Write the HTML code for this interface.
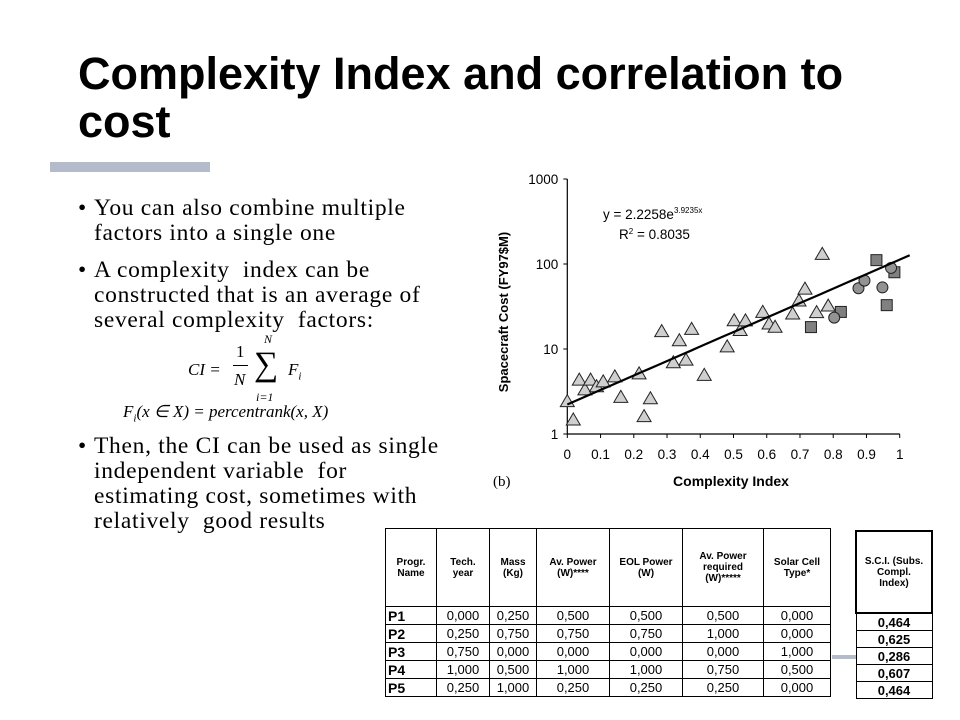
<!DOCTYPE html>
<html><head><meta charset="utf-8"><style>
body{margin:0;width:960px;height:720px;background:#fff;position:relative;overflow:hidden;font-family:"Liberation Sans",sans-serif}
.abs{position:absolute}
#title{left:78px;top:50px;font-size:45px;font-weight:bold;line-height:48px;color:#000;width:880px}
#bar{left:50px;top:162px;width:160px;height:10px;background:#b4bccb}
.bul{font-family:"Liberation Serif",serif;font-size:23.5px;letter-spacing:0.7px;line-height:25px;color:#000;left:78px;width:400px}
.bul span.dot{position:absolute;left:0}
.bul div{padding-left:16px}
.math{font-family:"Liberation Serif",serif;font-style:italic;font-size:17px}
table{border-collapse:collapse;font-family:"Liberation Sans",sans-serif}
#tbl td{border:1.5px solid #000;font-size:13px;text-align:center;padding:0;height:17px}
#tbl th{border:1.5px solid #000;font-size:10px;font-weight:bold;height:77px;padding:0}
#tbl td.n{text-align:left;font-weight:bold;font-size:14px;padding-left:2px}
#sci td{border:1.5px solid #000;font-size:13px;font-weight:bold;text-align:center;height:16px;padding:0}
#sci th{border:2px solid #000;font-size:10px;font-weight:bold;height:78px}
</style></head><body>
<div id="title" class="abs">Complexity Index and correlation to<br>cost</div>
<div id="bar" class="abs"></div>
<div class="abs bul" style="top:196px"><span class="dot">•</span><div>You can also combine multiple<br>factors into a single one</div></div>
<div class="abs bul" style="top:258px"><span class="dot">•</span><div>A complexity &nbsp;index can be<br>constructed that is an average of<br>several complexity &nbsp;factors:</div></div>
<div class="abs math" style="left:188px;top:332px;width:150px">
<span style="position:absolute;left:0;top:28px">CI =</span>
<span style="position:absolute;left:48px;top:10px;font-style:normal">1</span>
<span style="position:absolute;left:45px;top:33px;width:15px;border-top:1px solid #000"></span>
<span style="position:absolute;left:46px;top:38px">N</span>
<span style="position:absolute;left:76px;top:0px;font-size:12px">N</span>
<span style="position:absolute;left:66px;top:14px;font-size:34px;font-style:normal">∑</span>
<span style="position:absolute;left:68px;top:58px;font-size:12px">i=1</span>
<span style="position:absolute;left:100px;top:28px">F<sub style="font-size:11px">i</sub></span>
</div>
<div class="abs math" style="left:123px;top:402px">F<sub style="font-size:11px">i</sub>(x ∈ X) = percentrank(x, X)</div>
<div class="abs bul" style="top:434px"><span class="dot">•</span><div>Then, the CI can be used as single<br>independent variable &nbsp;for<br>estimating cost, sometimes with<br>relatively &nbsp;good results</div></div>

<svg id="chart" class="abs" style="left:0;top:0" width="960" height="720"></svg>

<div class="abs" style="left:832px;top:655px;width:24px;height:4px;background:#b4bccb"></div>
<table id="tbl" class="abs" style="left:385px;top:528px;width:446px;background:#fff">
<tr><th style="width:50px">Progr.<br>Name</th><th style="width:52px">Tech.<br>year</th><th style="width:46px">Mass<br>(Kg)</th><th style="width:72px">Av. Power<br>(W)****</th><th style="width:72px">EOL Power<br>(W)</th><th style="width:80px">Av. Power<br>required<br>(W)*****</th><th>Solar Cell<br>Type*</th></tr>
<tr><td class="n">P1</td><td>0,000</td><td>0,250</td><td>0,500</td><td>0,500</td><td>0,500</td><td>0,000</td></tr>
<tr><td class="n">P2</td><td>0,250</td><td>0,750</td><td>0,750</td><td>0,750</td><td>1,000</td><td>0,000</td></tr>
<tr><td class="n">P3</td><td>0,750</td><td>0,000</td><td>0,000</td><td>0,000</td><td>0,000</td><td>1,000</td></tr>
<tr><td class="n">P4</td><td>1,000</td><td>0,500</td><td>1,000</td><td>1,000</td><td>0,750</td><td>0,500</td></tr>
<tr><td class="n">P5</td><td>0,250</td><td>1,000</td><td>0,250</td><td>0,250</td><td>0,250</td><td>0,000</td></tr>
</table>
<table id="sci" class="abs" style="left:855px;top:530px;width:78px">
<tr><th>S.C.I. (Subs.<br>Compl.<br>Index)</th></tr>
<tr><td>0,464</td></tr><tr><td>0,625</td></tr><tr><td>0,286</td></tr><tr><td>0,607</td></tr><tr><td>0,464</td></tr>
</table>

<script>
const triX=[0,0.018,0.036,0.053,0.07,0.088,0.108,0.143,0.161,0.216,0.231,0.25,0.284,0.319,0.337,0.357,0.374,0.412,0.481,0.502,0.52,0.536,0.588,0.607,0.625,0.678,0.697,0.715,0.75,0.767,0.785];
const triY=[2.4,1.46,4.3,3.3,4.3,3.6,4.1,4.7,2.7,5.1,1.6,2.6,16,6.9,12.5,7.4,17,4.9,10.6,21.5,16.5,21.4,27,19.7,18,25.8,36.7,50.7,26.8,130,32];
const sqX=[0.733,0.823,0.93,0.961,0.984];
const sqY=[18.1,27.3,111,32.8,80];
const cirX=[0.803,0.876,0.894,0.948,0.974];
const cirY=[23.4,51.9,63.8,53,90];
const fitA=2.2258, fitB=3.9235, fitRange=[0,1.03];
const xTicks=[0,0.1,0.2,0.3,0.4,0.5,0.6,0.7,0.8,0.9,1];
const xTickLabels=["0","0.1","0.2","0.3","0.4","0.5","0.6","0.7","0.8","0.9","1"];
const yTicks=[1,10,100,1000];
const yTickLabels=["1","10","100","1000"];

const NS="http://www.w3.org/2000/svg";
const svg=document.getElementById('chart');
const X0=567.3,X1=899.7,Ytop=179,Ybot=434;
const sx=v=>X0+(X1-X0)*v;
const sy=v=>Ybot-(Ybot-Ytop)*Math.log10(v)/3;
function mk(tag,attrs,parent){const e=document.createElementNS(NS,tag);for(const k in attrs)e.setAttribute(k,attrs[k]);(parent||svg).appendChild(e);return e;}

const yAxis=mk('line',{x1:X0,y1:Ytop,x2:X0,y2:Ybot,stroke:'#000','stroke-width':1.2});


const xAxis=mk('line',{x1:X0,y1:Ybot,x2:X1,y2:Ybot,stroke:'#000','stroke-width':1.2});


xTicks.forEach((t,i)=>{
  mk('line',{x1:sx(t),y1:Ybot,x2:sx(t),y2:Ybot+4,stroke:'#000'});
  const tx=mk('text',{x:sx(t),y:Ybot+25,'text-anchor':'middle','font-size':13.5,'font-family':'Liberation Sans, sans-serif'});
  tx.textContent=xTickLabels[i];
  
  
});
yTicks.forEach((t,i)=>{
  mk('line',{x1:X0-4,y1:sy(t),x2:X0,y2:sy(t),stroke:'#000'});
  const tx=mk('text',{x:X0-9,y:sy(t)+5,'text-anchor':'end','font-size':13.5,'font-family':'Liberation Sans, sans-serif'});
  tx.textContent=yTickLabels[i];
  
  
});
const xt=mk('text',{x:731,y:486,'text-anchor':'middle','font-size':14,'font-weight':'bold','font-family':'Liberation Sans, sans-serif'});
xt.textContent='Complexity Index';


const yt=mk('text',{x:0,y:0,'text-anchor':'middle','font-size':13,'font-weight':'bold','font-family':'Liberation Sans, sans-serif',transform:'translate(508,312) rotate(-90)'});
yt.textContent='Spacecraft Cost (FY97$M)';


const pb=mk('text',{x:493,y:486,'font-size':15,'font-family':'Liberation Serif, serif'});
pb.textContent='(b)';


const eq=mk('text',{x:603,y:219,'font-size':13.5,'font-family':'Liberation Sans, sans-serif'});
eq.innerHTML='y = 2.2258e<tspan dy="-6" font-size="8">3.9235x</tspan>';


const r2=mk('text',{x:619,y:239,'font-size':13.5,'font-family':'Liberation Sans, sans-serif'});
r2.innerHTML='R<tspan dy="-5" font-size="8">2</tspan><tspan dy="5"> = 0.8035</tspan>';



triX.forEach((x,i)=>{
  const cx=sx(x),cy=sy(triY[i]);
  const p=mk('polygon',{points:`${cx},${cy-7} ${cx-7},${cy+5} ${cx+7},${cy+5}`,fill:'#cfcfcf',stroke:'#222','stroke-width':1});
  
  
});
sqX.forEach((x,i)=>{
  const cx=sx(x),cy=sy(sqY[i]);
  const r=mk('rect',{x:cx-5.5,y:cy-5.5,width:11,height:11,fill:'#808080',stroke:'#222','stroke-width':1});
  
  
});
cirX.forEach((x,i)=>{
  const c=mk('circle',{cx:sx(cirX[i]),cy:sy(cirY[i]),r:5.5,fill:'#939393',stroke:'#222','stroke-width':1});
  
  
});
let d='';
for(let k=0;k<=50;k++){const x=fitRange[0]+(fitRange[1]-fitRange[0])*k/50;d+=(k?'L':'M')+sx(x).toFixed(1)+','+sy(fitA*Math.exp(fitB*x)).toFixed(1);}
const fl=mk('path',{d:d,fill:'none',stroke:'#000','stroke-width':2.2});


</script>
</body></html>
